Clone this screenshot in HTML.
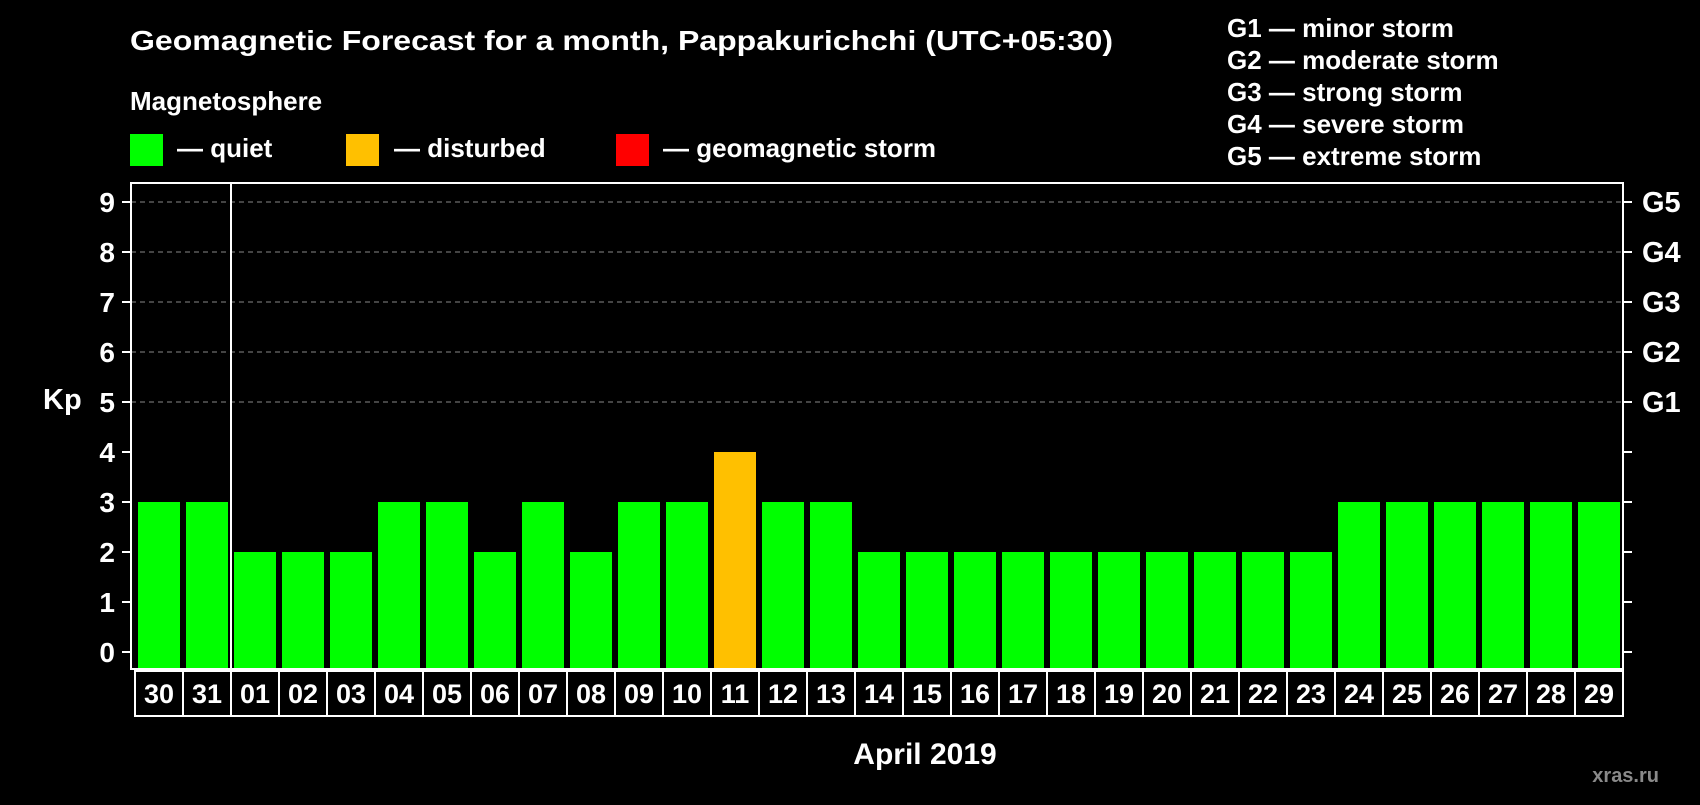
<!DOCTYPE html>
<html><head><meta charset="utf-8"><style>
html,body{margin:0;padding:0;background:#000;}
body{width:1700px;height:800px;overflow:hidden;font-family:"Liberation Sans",sans-serif;font-weight:bold;color:#fff;}
</style></head><body>
<svg id="chart" width="1700" height="800" xmlns="http://www.w3.org/2000/svg" font-family="Liberation Sans, sans-serif" font-weight="bold">
<rect x="0" y="0" width="1700" height="800" fill="#000"/>
<text x="130" y="50" font-size="28" fill="#fff" textLength="983" lengthAdjust="spacingAndGlyphs">Geomagnetic Forecast for a month, Pappakurichchi (UTC+05:30)</text>
<text x="130" y="110" font-size="26" fill="#fff">Magnetosphere</text>
<rect x="130" y="134" width="33" height="32" fill="#00ff00"/>
<text x="177" y="157" font-size="26" fill="#fff">— quiet</text>
<rect x="346" y="134" width="33" height="32" fill="#ffc000"/>
<text x="394" y="157" font-size="26" fill="#fff">— disturbed</text>
<rect x="616" y="134" width="33" height="32" fill="#ff0000"/>
<text x="663" y="157" font-size="26" fill="#fff">— geomagnetic storm</text>
<g font-size="26" fill="#fff">
<text x="1227" y="37">G1 — minor storm</text>
<text x="1227" y="69">G2 — moderate storm</text>
<text x="1227" y="101">G3 — strong storm</text>
<text x="1227" y="133">G4 — severe storm</text>
<text x="1227" y="165">G5 — extreme storm</text>
</g>
<text x="43" y="409" font-size="29" fill="#fff">Kp</text>
<text x="925" y="764" font-size="30" fill="#fff" text-anchor="middle">April 2019</text>
<text x="1659" y="782" font-size="20" fill="#8a8a8a" text-anchor="end">xras.ru</text>
<g id="grid"></g><g id="bars"></g><g id="axes"></g>
</svg>
<script>
const days=["30","31","01","02","03","04","05","06","07","08","09","10","11","12","13","14","15","16","17","18","19","20","21","22","23","24","25","26","27","28","29"];
const kp=[3,3,2,2,2,3,3,2,3,2,3,3,4,3,3,2,2,2,2,2,2,2,2,2,2,3,3,3,3,3,3];
const yTicks=[0,1,2,3,4,5,6,7,8,9];
const gLabels=["G1","G2","G3","G4","G5"];
const NS="http://www.w3.org/2000/svg";
const L=131,R=1623,T=183,B=669;
function y(v){return 652-v*50;}
function x(i){return 135+i*48;}
function mk(tag,attrs,parent){const e=document.createElementNS(NS,tag);for(const k in attrs)e.setAttribute(k,attrs[k]);parent.appendChild(e);return e;}
const grid=document.getElementById('grid'),bars=document.getElementById('bars'),axes=document.getElementById('axes');
yTicks.forEach(v=>{
 if(v>=5){const g=mk('line',{x1:L,x2:R,y1:y(v),y2:y(v),stroke:'#888','stroke-dasharray':'5,4','stroke-width':1},grid);
 
 }
 const t=mk('line',{x1:L-9,x2:L,y1:y(v),y2:y(v),stroke:'#fff','stroke-width':2},axes);
 
 
 const t2=mk('line',{x1:R,x2:R+9,y1:y(v),y2:y(v),stroke:'#fff','stroke-width':2},axes);
 
 
 const lb=mk('text',{x:115,y:y(v)+10,'font-size':28,fill:'#fff','text-anchor':'end'},axes);lb.textContent=v;
 
 
});
gLabels.forEach((g,i)=>{
 const lb=mk('text',{x:1642,y:y(i+5)+10,'font-size':29,fill:'#fff'},axes);lb.textContent=g;
 
 
});
days.forEach((d,i)=>{
 const v=kp[i];const col=v>=5?'#ff0000':(v>=4?'#ffc000':'#00ff00');
 const b=mk('rect',{x:x(i)+3,y:y(v),width:42,height:B-y(v),fill:col},bars);
 
 
 const c=mk('rect',{x:x(i),y:671,width:48,height:45,fill:'none',stroke:'#fff','stroke-width':2},axes);
 
 
 const t=mk('text',{x:x(i)+24,y:703,'font-size':27,fill:'#fff','text-anchor':'middle'},axes);t.textContent=d;
 
 
});
const fr=mk('rect',{x:L,y:T,width:R-L,height:B-T,fill:'none',stroke:'#fff','stroke-width':2},axes);


const dv=mk('line',{x1:231,x2:231,y1:T,y2:B,stroke:'#fff','stroke-width':2},axes);


</script>
</body></html>
